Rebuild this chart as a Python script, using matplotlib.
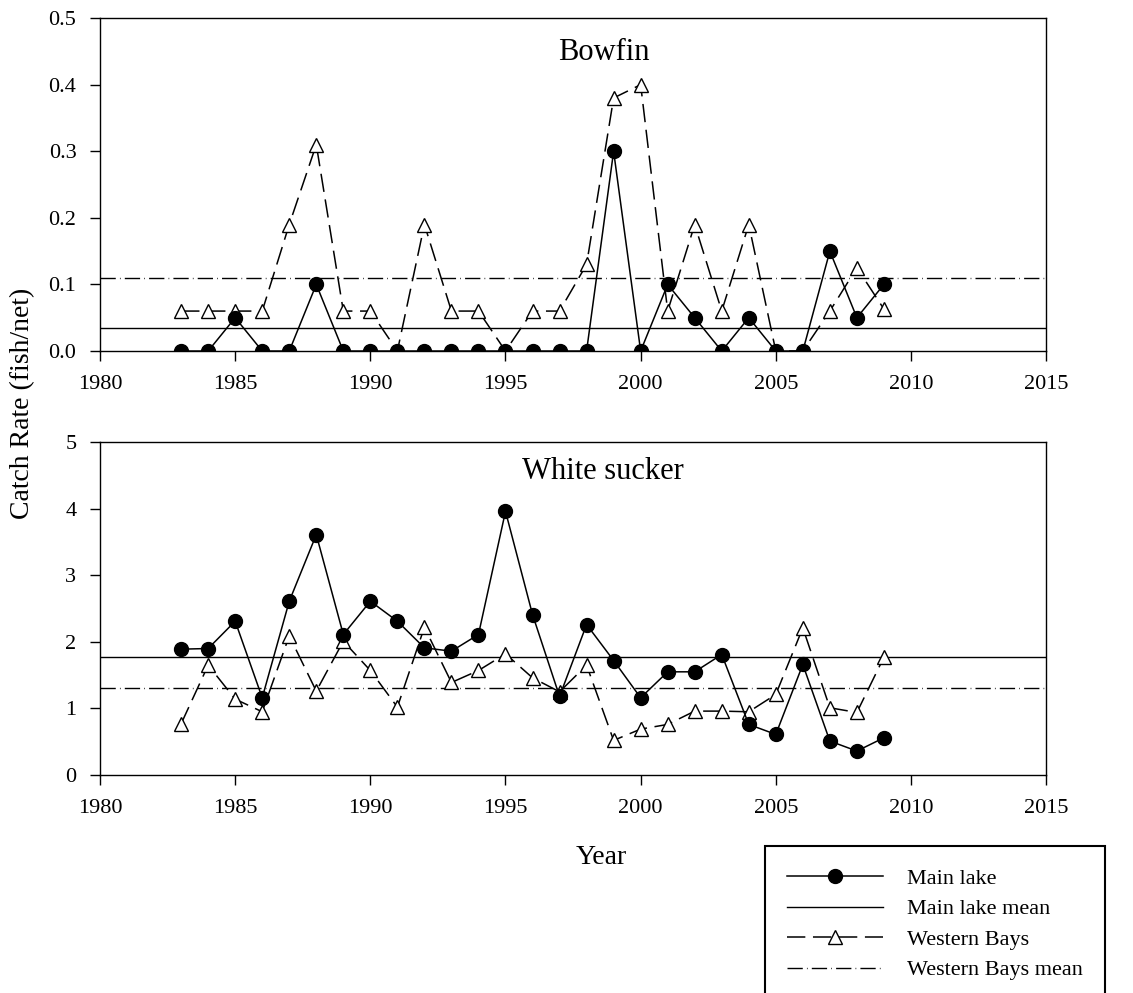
import numpy as np
import matplotlib
matplotlib.use('Agg')
import matplotlib.pyplot as plt
from matplotlib.ticker import FormatStrFormatter

plt.rcParams['font.family'] = ['Liberation Serif', 'DejaVu Serif']

# 데이터 ---------------------------------------------------------------
years = list(range(1983, 2010))

bowfin_main = [0, 0, 0.05, 0, 0, 0.10, 0, 0, 0, 0, 0, 0, 0, 0, 0, 0,
               0.30, 0, 0.10, 0.05, 0, 0.05, 0, 0, 0.15, 0.05, 0.10]
bowfin_west = [0.06, 0.06, 0.06, 0.06, 0.19, 0.31, 0.06, 0.06, 0.0, 0.19,
               0.06, 0.06, 0.0, 0.06, 0.06, 0.13, 0.38, 0.40, 0.06, 0.19,
               0.06, 0.19, 0.0, 0.0, 0.06, 0.125, 0.063]
bowfin_main_mean = 0.035
bowfin_west_mean = 0.11

sucker_main = [1.89, 1.90, 2.31, 1.16, 2.61, 3.61, 2.11, 2.61, 2.31, 1.91,
               1.86, 2.11, 3.96, 2.41, 1.18, 2.26, 1.72, 1.16, 1.55, 1.55,
               1.81, 0.76, 0.61, 1.66, 0.51, 0.36, 0.56]
sucker_west = [0.77, 1.65, 1.14, 0.95, 2.09, 1.26, 2.01, 1.57, 1.02, 2.22,
               1.39, 1.57, 1.82, 1.46, 1.25, 1.65, 0.52, 0.69, 0.76, 0.96,
               0.96, 0.95, 1.21, 2.21, 1.01, 0.94, 1.77]
sucker_main_mean = 1.78
sucker_west_mean = 1.31

panels = [
    ('Bowfin', bowfin_main, bowfin_west, bowfin_main_mean, bowfin_west_mean,
     np.arange(0, 0.51, 0.1), '%.1f', 0.5, 0.874),
    ('White sucker', sucker_main, sucker_west, sucker_main_mean, sucker_west_mean,
     np.arange(0, 6, 1), '%d', 5, 0.889),
]

fig = plt.figure(figsize=(11.33, 9.93), dpi=100)
ax_top = fig.add_axes([0.0883, 0.6465, 0.835, 0.3353])
ax_bot = fig.add_axes([0.0883, 0.2195, 0.835, 0.3353])

handles = None
for ax, (name, main, west, main_mean, west_mean, yt, fmt, ymax, ty) in zip([ax_top, ax_bot], panels):
    # 평균선
    h_mm = ax.axhline(main_mean, color='black', lw=1.0)
    h_wm = ax.axhline(west_mean, color='black', lw=1.0, dashes=(11, 3, 0.5, 3))
    # 시계열
    h_w, = ax.plot(years, west, color='black', lw=1.1, dashes=(12, 5),
                   marker='^', ms=10, mfc='white', mec='black', mew=1.0, zorder=3)
    h_m, = ax.plot(years, main, color='black', lw=1.1, marker='o', ms=10,
                   mfc='black', mec='black', zorder=4)
    ax.set_xlim(1980, 2015)
    ax.set_ylim(0, ymax)
    ax.set_xticks(range(1980, 2016, 5))
    ax.set_yticks(yt)
    ax.yaxis.set_major_formatter(FormatStrFormatter(fmt))
    ax.tick_params(direction='out', length=7, width=1, labelsize=16, pad=10)
    for s in ax.spines.values():
        s.set_linewidth(1.0)
    ax.text(0.532, ty, name, transform=ax.transAxes, ha='center', va='baseline', fontsize=22)
    handles = [h_m, h_mm, h_w, h_wm]

fig.text(0.020, 0.594, 'Catch Rate (fish/net)', rotation=90, ha='center', va='center', fontsize=20)
fig.text(0.531, 0.136, 'Year', ha='center', va='center', fontsize=20)

leg = fig.legend(handles, ['Main lake', 'Main lake mean', 'Western Bays', 'Western Bays mean'],
                 loc='upper left', bbox_to_anchor=(765 / 1133, 1 - 846 / 993),
                 fontsize=16, handlelength=4.3, handletextpad=1.1, labelspacing=0.45,
                 borderpad=1.0, borderaxespad=0, fancybox=False, framealpha=1,
                 edgecolor='black')
leg.get_frame().set_linewidth(1.5)

plt.savefig('out.png', dpi=100)
